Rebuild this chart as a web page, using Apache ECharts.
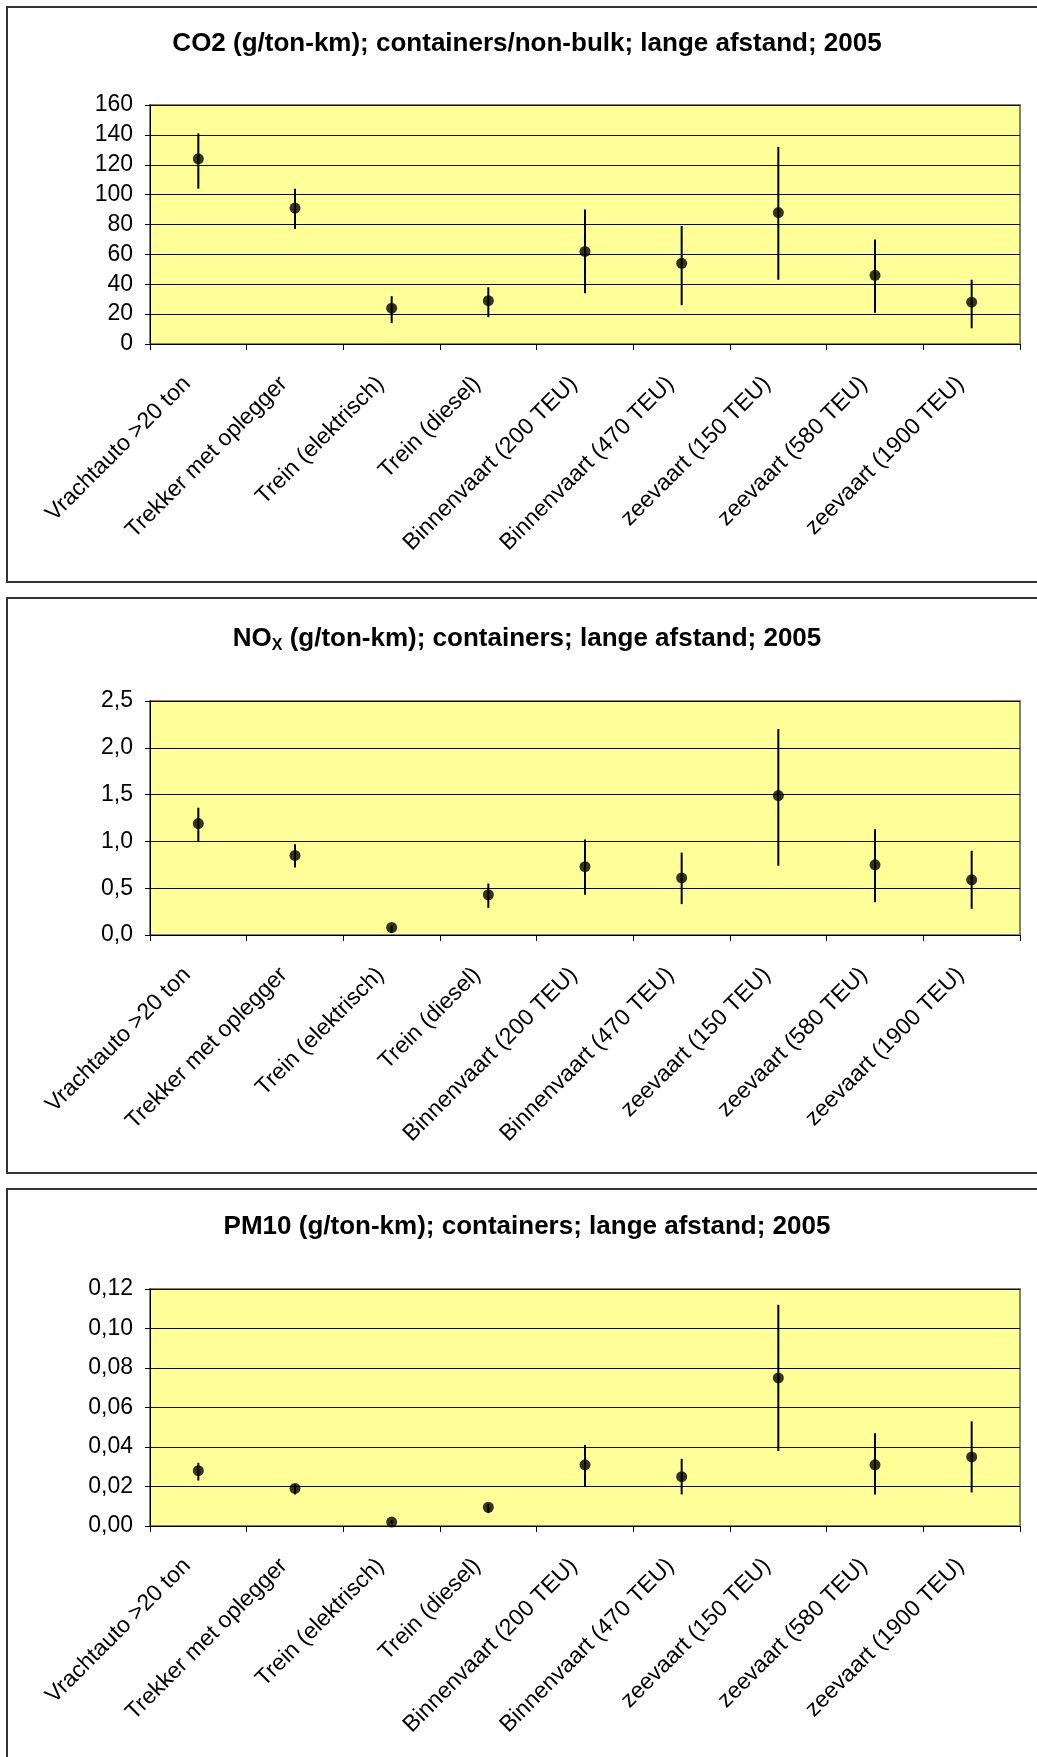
<!DOCTYPE html>
<html>
<head>
<meta charset="utf-8">
<script src="https://cdn.jsdelivr.net/npm/echarts@6/dist/echarts.min.js"></script>
<style>
  html, body { margin: 0; padding: 0; background: #fff; width: 1037px; height: 1757px; overflow: hidden; }
  .frame { position: absolute; border: 2px solid #333; box-sizing: border-box; background: #fff; }
  #chart { position: absolute; left: 0; top: 0; width: 1037px; height: 1757px; }
</style>
</head>
<body>
<div class="frame" style="left:6px; top:6px; width:1100px; height:577px;"></div>
<div class="frame" style="left:6px; top:597px; width:1100px; height:577px;"></div>
<div class="frame" style="left:6px; top:1188px; width:1100px; height:620px;"></div>
<div id="chart"></div>
<script>
// ---- data ----
const categories = ['Vrachtauto >20 ton', 'Trekker met oplegger', 'Trein (elektrisch)', 'Trein (diesel)',
  'Binnenvaart (200 TEU)', 'Binnenvaart (470 TEU)', 'zeevaart (150 TEU)', 'zeevaart (580 TEU)', 'zeevaart (1900 TEU)'];

const co2Value = [124, 91, 24, 29, 62, 54, 88, 46, 28];
const co2High  = [141, 104, 32, 38, 90, 79, 132, 70, 43];
const co2Low   = [104, 77, 14, 18, 34, 26, 43, 21, 10.5];

const noxValue = [1.19, 0.85, 0.08, 0.43, 0.73, 0.61, 1.49, 0.75, 0.59];
const noxHigh  = [1.36, 0.97, 0.10, 0.55, 1.02, 0.88, 2.20, 1.13, 0.90];
const noxLow   = [1.00, 0.72, 0.02, 0.29, 0.43, 0.33, 0.74, 0.35, 0.28];

const pmValue = [0.028, 0.019, 0.002, 0.0095, 0.031, 0.025, 0.075, 0.031, 0.035];
const pmHigh  = [0.032, 0.021, 0.003, 0.011, 0.041, 0.034, 0.112, 0.047, 0.053];
const pmLow   = [0.023, 0.016, 0.001, 0.0065, 0.020, 0.016, 0.038, 0.016, 0.017];

const co2Ticks = [0, 20, 40, 60, 80, 100, 120, 140, 160];
const noxTicks = [0, 0.5, 1.0, 1.5, 2.0, 2.5];
const pmTicks  = [0, 0.02, 0.04, 0.06, 0.08, 0.10, 0.12];

const titles = [
  'CO2 (g/ton-km); containers/non-bulk; lange afstand; 2005',
  'NO{sub|X} (g/ton-km); containers; lange afstand; 2005',
  'PM10 (g/ton-km); containers; lange afstand; 2005'
];

// ---- build ----
const chart = echarts.init(document.getElementById('chart'), null, { renderer: 'canvas' });

const panels = [
  { mid: co2Value, hi: co2High, lo: co2Low, ticks: co2Ticks, dec: 0, top: 105, height: 239, titleTop: 31 },
  { mid: noxValue, hi: noxHigh, lo: noxLow, ticks: noxTicks, dec: 1, top: 701, height: 234, titleTop: 624 },
  { mid: pmValue, hi: pmHigh, lo: pmLow, ticks: pmTicks, dec: 2, top: 1289, height: 237, titleTop: 1214 }
];

const FONT = '"Liberation Sans", Arial, sans-serif';

const option = {
  animation: false,
  title: [], grid: [], xAxis: [], yAxis: [], series: []
};

panels.forEach((p, i) => {
  option.title.push({
    text: titles[i],
    left: 527, top: p.titleTop, textAlign: 'center', padding: 0,
    textStyle: {
      fontFamily: FONT, fontWeight: 'bold', fontSize: 26, color: '#000',
      rich: { sub: { fontFamily: FONT, fontWeight: 'bold', fontSize: 16, color: '#000', padding: [14, 0, 0, 0] } }
    }
  });
  option.grid.push({
    left: 150, top: p.top, width: 870, height: p.height,
    show: true, backgroundColor: '#FFFF99', borderColor: '#808080', borderWidth: 2
  });
  option.xAxis.push({
    type: 'category', gridIndex: i, data: categories, boundaryGap: true,
    axisLine: { lineStyle: { color: '#000', width: 1 } },
    axisTick: { show: true, length: 6, lineStyle: { color: '#000' } },
    axisLabel: { interval: 0, rotate: 45, margin: 25, padding: [0, 16, 0, 0], color: '#000', fontFamily: FONT, fontSize: 23 },
    splitLine: { show: false }
  });
  const tk = p.ticks;
  option.yAxis.push({
    type: 'value', gridIndex: i, min: tk[0], max: tk[tk.length - 1], interval: tk[1] - tk[0],
    axisLine: { show: true, lineStyle: { color: '#000', width: 1 } },
    axisTick: { show: true, length: 5, lineStyle: { color: '#000' } },
    axisLabel: { margin: 17, color: '#000', fontFamily: FONT, fontSize: 23,
      formatter: v => v.toFixed(p.dec).replace('.', ',') },
    splitLine: { show: true, lineStyle: { color: '#111', width: 1 } }
  });
  option.series.push({
    type: 'custom', xAxisIndex: i, yAxisIndex: i, z: 2,
    data: categories.map((c, k) => [k, p.lo[k], p.hi[k]]),
    encode: { x: 0, y: [1, 2] },
    renderItem: (params, api) => {
      const a = api.coord([api.value(0), api.value(1)]);
      const b = api.coord([api.value(0), api.value(2)]);
      return { type: 'line', shape: { x1: a[0], y1: a[1], x2: b[0], y2: b[1] },
        style: { stroke: '#000', lineWidth: 2 } };
    }
  });
  option.series.push({
    type: 'scatter', xAxisIndex: i, yAxisIndex: i, z: 3,
    data: p.mid, symbol: 'circle', symbolSize: 11,
    itemStyle: { color: '#000' }
  });
});

chart.setOption(option);
</script>
</body>
</html>
